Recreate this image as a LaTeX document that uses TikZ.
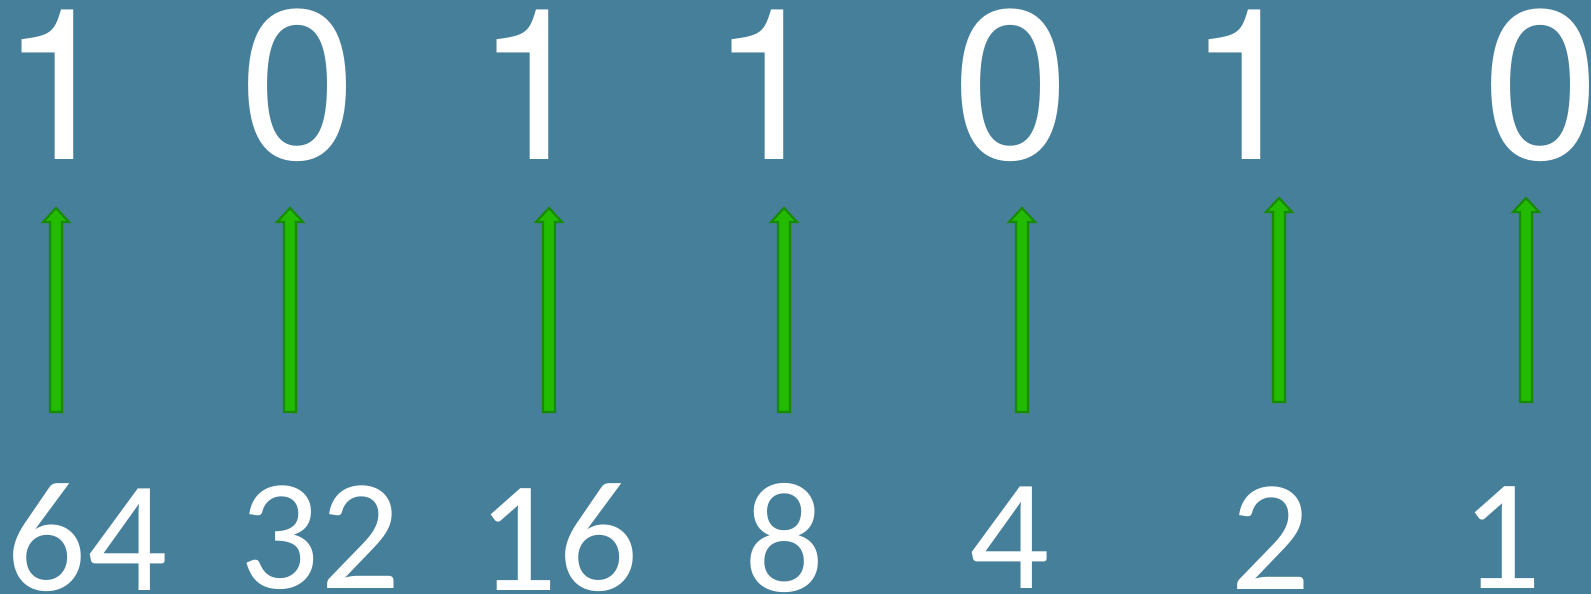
\documentclass[tikz,border=0pt]{standalone}
\usepackage{fontspec}
\newfontfamily\arialfont{texgyreheros-regular.otf}
\newfontfamily\calibfont{Carlito}
\usepackage{tikz}
\definecolor{cBack}{HTML}{467F9A}
\definecolor{cArrow}{HTML}{22BB00}
\definecolor{cArrowEdge}{HTML}{178A00}
\tikzset{
  bit/.style    = {inner sep=0pt, text=white, font=\arialfont\fontsize{60}{60}\selectfont},
  weight/.style = {inner sep=0pt, text=white, font=\calibfont\fontsize{45}{45}\selectfont},
  uparr/.style  = {fill=cArrow, draw=cArrowEdge, line width=0.6pt, line join=miter},
}
% block arrow: x, tip y, bottom y (pixel units)
\newcommand{\blockarrow}[3]{%
  \draw[uparr] (#1-6,#3) -- (#1-6,#2+14) -- (#1-13,#2+14) -- (#1,#2)
    -- (#1+13,#2+14) -- (#1+6,#2+14) -- (#1+6,#3) -- cycle;}

\begin{document}
\begin{tikzpicture}[x=0.01cm,y=-0.01cm]
  \fill[cBack] (0,0) rectangle (1591,594);
  \useasboundingbox (0,0) rectangle (1591,594);

  % bits
  \node[bit] (b6) at (59,85)   {1};
  \node[bit] (b5) at (298,85)  {0};
  \node[bit] (b4) at (534,85)  {1};
  \node[bit] (b3) at (769,85)  {1};
  \node[bit] (b2) at (1011,85) {0};
  \node[bit] (b1) at (1246,85) {1};
  \node[bit] (b0) at (1541,85) {0};

  % place values
  \node[weight] (w6) at (87,538)   {64};
  \node[weight] (w5) at (320,538)  {32};
  \node[weight] (w4) at (558,538)  {16};
  \node[weight] (w3) at (785,538)  {8};
  \node[weight] (w2) at (1010,538) {4};
  \node[weight] (w1) at (1271,538) {2};
  \node[weight] (w0) at (1502,538) {1};

  % arrows
  \blockarrow{56}{208}{412}
  \blockarrow{290}{208}{412}
  \blockarrow{549}{208}{412}
  \blockarrow{784}{208}{412}
  \blockarrow{1022}{208}{412}
  \blockarrow{1279}{198}{402}
  \blockarrow{1526}{198}{402}
\end{tikzpicture}
\end{document}
